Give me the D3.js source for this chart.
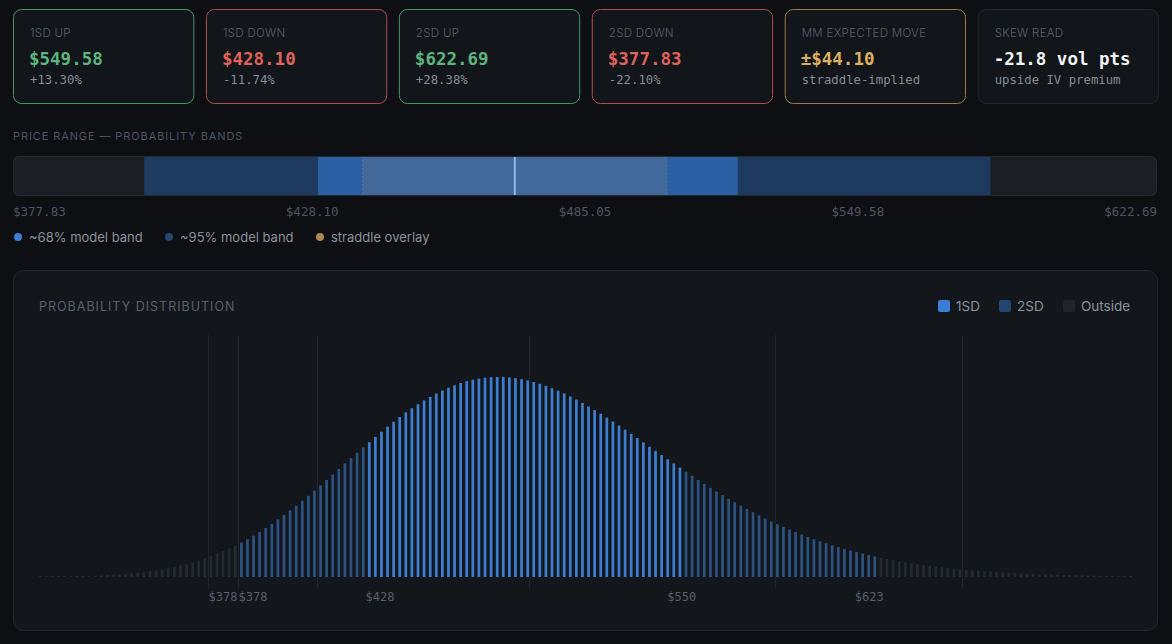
<!DOCTYPE html>
<html>
<head>
<meta charset="utf-8">
<script src="https://cdn.jsdelivr.net/npm/d3@7"></script>
<style>
  html, body { margin: 0; padding: 0; background: #0d0f12; }
  svg { display: block; }
</style>
</head>
<body>
<svg id="chart" width="1172" height="644"></svg>
<script>
// summary cards
const cardLabels = ["1SD UP", "1SD DOWN", "2SD UP", "2SD DOWN", "MM EXPECTED MOVE", "SKEW READ"]
const cardValues = ["$549.58", "$428.10", "$622.69", "$377.83", "±$44.10", "-21.8 vol pts"]
const cardNotes = ["+13.30%", "-11.74%", "+28.38%", "-22.10%", "straddle-implied", "upside IV premium"]
const cardTones = ["up", "down", "up", "down", "move", "skew"]

// price range bar
const levelNames = ["2SD DOWN", "1SD DOWN", "SPOT", "1SD UP", "2SD UP"]
const levelPrices = [377.83, 428.10, 485.05, 549.58, 622.69]
const rangeDomain = [339.9, 670.8]
const straddleMove = 44.10
const rangeTickLabels = ["$377.83", "$428.10", "$485.05", "$549.58", "$622.69"]

// probability distribution (relative density per bin, % of peak)
const densities = [
  0.10, 0.12, 0.15, 0.19, 0.24, 0.29, 0.36, 0.44, 0.54, 0.65,
  0.79, 0.94, 1.11, 1.31, 1.55, 1.82, 2.13, 2.48, 2.89, 3.35,
  3.87, 4.42, 5.04, 5.73, 6.49, 7.33, 8.25, 9.27, 10.39, 11.61,
  12.92, 14.26, 15.71, 17.26, 18.89, 20.65, 22.53, 24.48, 26.58, 28.78,
  31.06, 33.31, 35.63, 38.10, 40.59, 43.15, 45.79, 48.48, 51.22, 53.98,
  56.78, 59.43, 62.08, 64.75, 67.39, 70.01, 72.59, 75.12, 77.54, 79.94,
  82.28, 84.36, 86.35, 88.24, 90.01, 91.66, 93.19, 94.58, 95.82, 96.95,
  97.87, 98.58, 99.15, 99.57, 99.84, 99.94, 99.90, 99.70, 99.35, 98.84,
  98.23, 97.46, 96.55, 95.52, 94.38, 93.12, 91.75, 90.24, 88.66, 86.99,
  85.20, 83.42, 81.56, 79.65, 77.69, 75.68, 73.63, 71.53, 69.42, 67.28,
  65.11, 63.02, 60.93, 58.84, 56.75, 54.68, 52.62, 50.58, 48.52, 46.53,
  44.56, 42.71, 40.90, 39.08, 37.34, 35.64, 33.98, 32.33, 30.76, 29.23,
  27.71, 26.34, 24.99, 23.68, 22.44, 21.22, 20.05, 18.95, 17.86, 16.83,
  15.86, 14.93, 14.06, 13.23, 12.44, 11.69, 10.97, 10.27, 9.62, 9.00,
  8.41, 7.87, 7.38, 6.89, 6.43, 6.00, 5.60, 5.21, 4.85, 4.50,
  4.19, 3.90, 3.63, 3.37, 3.13, 2.90, 2.69, 2.49, 2.30, 2.13,
  1.97, 1.82, 1.69, 1.56, 1.44, 1.33, 1.23, 1.13, 1.04, 0.96,
  0.88, 0.81, 0.75, 0.69, 0.63, 0.58, 0.53, 0.49, 0.45, 0.41
]
const bandRuns = [["Outside", 33], ["2SD", 21], ["1SD", 52], ["2SD", 32], ["Outside", 42]]
const distDomain = [298.9, 723.7]
const distTickLabels = ["$378", "$378", "$428", "$550", "$623"]
const distTickPrices = [370.4, 382.1, 431.4, 548.7, 621.6]
const distGridPrices = [364.5, 376.4, 406.8, 489.3, 584.9, 657.7]
const legendNames = ["1SD", "2SD", "Outside"]

const mono = "'DejaVu Sans Mono', monospace"
const sans = "Inter, 'Noto Sans', sans-serif"
const toneBorder = {up: "#4a9567", down: "#ad514d", move: "#9a7b47", skew: "#23272e"}
const toneValue = {up: "#5db47f", down: "#df625b", move: "#dcae62", skew: "#f1f3f5"}
const bandColor = {"1SD": "#3d7dcf", "2SD": "#2c5282", "Outside": "#252930"}
const legendColor = {"1SD": "#3a7fd5", "2SD": "#234670", "Outside": "#20242b"}

const svg = d3.select("#chart")

// ---- cards ----
const cardX = d3.scaleBand().domain(cardLabels).range([13, 1159]).paddingInner(0.06)
const cards = svg.append("g").selectAll("g")
  .data(cardLabels.map((d, i) => ({label: d, value: cardValues[i], note: cardNotes[i], tone: cardTones[i]})))
  .enter().append("g")
  .attr("transform", d => "translate(" + cardX(d.label) + ",9)")

cards.append("rect")
  .attr("x", 0.5).attr("y", 0.5)
  .attr("width", cardX.bandwidth() - 1).attr("height", 94)
  .attr("rx", 8)
  .attr("fill", "#121519")
  .attr("stroke", d => toneBorder[d.tone])
cards.append("text").text(d => d.label)
  .attr("x", 17).attr("y", 28)
  .attr("font-family", sans).attr("font-size", 11.5).attr("font-weight", 300)
  .attr("letter-spacing", 0.3).attr("fill", "#5a616e")
cards.append("text").text(d => d.value)
  .attr("x", 16).attr("y", 56)
  .attr("font-family", mono).attr("font-size", 17.5).attr("font-weight", "bold")
  .attr("fill", d => toneValue[d.tone])
cards.append("text").text(d => d.note)
  .attr("x", 17).attr("y", 75)
  .attr("font-family", mono).attr("font-size", 12.3)
  .attr("fill", "#858c97")

// ---- price range bar ----
svg.append("text").text("PRICE RANGE — PROBABILITY BANDS")
  .attr("x", 13).attr("y", 140)
  .attr("font-family", sans).attr("font-size", 11).attr("letter-spacing", 0.9)
  .attr("fill", "#4d5460")

const rx = d3.scaleLinear().domain(rangeDomain).range([13, 1157])
const barTop = 156, barH = 40
svg.append("clipPath").attr("id", "rangeClip")
  .append("rect").attr("x", 13).attr("y", barTop).attr("width", 1144).attr("height", barH).attr("rx", 6)

const segs = [
  {a: rangeDomain[0], b: levelPrices[0], c: "#1b1f25"},
  {a: levelPrices[0], b: levelPrices[1], c: "#1f3a5f"},
  {a: levelPrices[1], b: levelPrices[3], c: "#2b5fa4"},
  {a: levelPrices[3], b: levelPrices[4], c: "#1f3a5f"},
  {a: levelPrices[4], b: rangeDomain[1], c: "#1b1f25"}
]
const rangeG = svg.append("g").attr("clip-path", "url(#rangeClip)")
rangeG.selectAll("rect.seg").data(segs).enter().append("rect")
  .attr("class", "seg")
  .attr("x", d => rx(d.a)).attr("y", barTop)
  .attr("width", d => rx(d.b) - rx(d.a)).attr("height", barH)
  .attr("fill", d => d.c)
const spot = levelPrices[2]
rangeG.append("rect")
  .attr("x", rx(spot - straddleMove) + 0.5).attr("y", barTop + 0.5)
  .attr("width", rx(spot + straddleMove) - rx(spot - straddleMove) - 1).attr("height", barH - 1)
  .attr("fill", "#43689a")
  .attr("stroke", "#6d7886").attr("stroke-dasharray", "2,2")
rangeG.append("line")
  .attr("x1", rx(spot)).attr("x2", rx(spot))
  .attr("y1", barTop).attr("y2", barTop + barH)
  .attr("stroke", "#86bdf2").attr("stroke-width", 2)
svg.append("rect")
  .attr("x", 13.5).attr("y", barTop + 0.5).attr("width", 1143).attr("height", barH - 1).attr("rx", 6)
  .attr("fill", "none").attr("stroke", "#262a31")

// labels spread like a justify-between row
const rangeTicks = svg.append("g").selectAll("text").data(rangeTickLabels).enter().append("text")
  .text(d => d)
  .attr("y", 216)
  .attr("text-anchor", "middle")
  .attr("font-family", mono).attr("font-size", 12.5)
  .attr("fill", "#4e5561")
const tw = d3.max(rangeTicks.nodes(), n => n.getComputedTextLength())
const tickX = d3.scalePoint().domain(rangeTickLabels).range([13 + tw / 2, 1157 - tw / 2])
rangeTicks.attr("x", d => tickX(d))

const rangeLegend = [
  {t: "~68% model band", c: "#3a7fd5", x: 13},
  {t: "~95% model band", c: "#24466f", x: 164},
  {t: "straddle overlay", c: "#a9854f", x: 315}
]
const rl = svg.append("g").selectAll("g").data(rangeLegend).enter().append("g")
  .attr("transform", d => "translate(" + d.x + ",237)")
rl.append("circle").attr("cx", 5).attr("cy", 0).attr("r", 4).attr("fill", d => d.c)
rl.append("text").text(d => d.t).attr("x", 16).attr("y", 4.5)
  .attr("font-family", sans).attr("font-size", 13).attr("fill", "#8a919c")

// ---- distribution panel ----
svg.append("rect")
  .attr("x", 13.5).attr("y", 270.5).attr("width", 1144).attr("height", 360).attr("rx", 10)
  .attr("fill", "#13161b").attr("stroke", "#23272d")
svg.append("text").text("PROBABILITY DISTRIBUTION")
  .attr("x", 39).attr("y", 311)
  .attr("font-family", sans).attr("font-size", 12.5).attr("letter-spacing", 1)
  .attr("fill", "#59606c")

const legX = [938, 999, 1063]
const lg = svg.append("g").selectAll("g").data(legendNames).enter().append("g")
  .attr("transform", (d, i) => "translate(" + legX[i] + ",300)")
lg.append("rect").attr("width", 12).attr("height", 12).attr("rx", 2).attr("fill", d => legendColor[d])
lg.append("text").text(d => d).attr("x", 18).attr("y", 11)
  .attr("font-family", sans).attr("font-size", 13.5).attr("fill", "#8a919c")

const bandOf = bandRuns.flatMap(r => d3.range(r[1]).map(() => r[0]))
const xb = d3.scaleBand().domain(d3.range(densities.length)).range([39, 1132]).paddingInner(0.55)
const xp = d3.scaleLinear().domain(distDomain).range([39, 1132])
const y = d3.scaleLinear().domain([0, d3.max(densities)]).range([577, 377])

svg.append("g").selectAll("line").data(distGridPrices).enter().append("line")
  .attr("x1", d => Math.round(xp(d)) + 0.5).attr("x2", d => Math.round(xp(d)) + 0.5)
  .attr("y1", 335).attr("y2", 588)
  .attr("stroke", "#20242a").attr("stroke-width", 1)

svg.append("g").selectAll("rect").data(densities).enter().append("rect")
  .attr("x", (d, i) => xb(i))
  .attr("width", xb.bandwidth())
  .attr("y", d => Math.min(y(d), 576))
  .attr("height", d => Math.max(577 - y(d), 1))
  .attr("fill", (d, i) => bandColor[bandOf[i]])

svg.append("g").selectAll("text").data(distTickLabels).enter().append("text")
  .text(d => d)
  .attr("x", (d, i) => xp(distTickPrices[i]))
  .attr("y", 601)
  .attr("text-anchor", "middle")
  .attr("font-family", mono).attr("font-size", 12)
  .attr("fill", "#585f6b")
</script>
</body>
</html>
